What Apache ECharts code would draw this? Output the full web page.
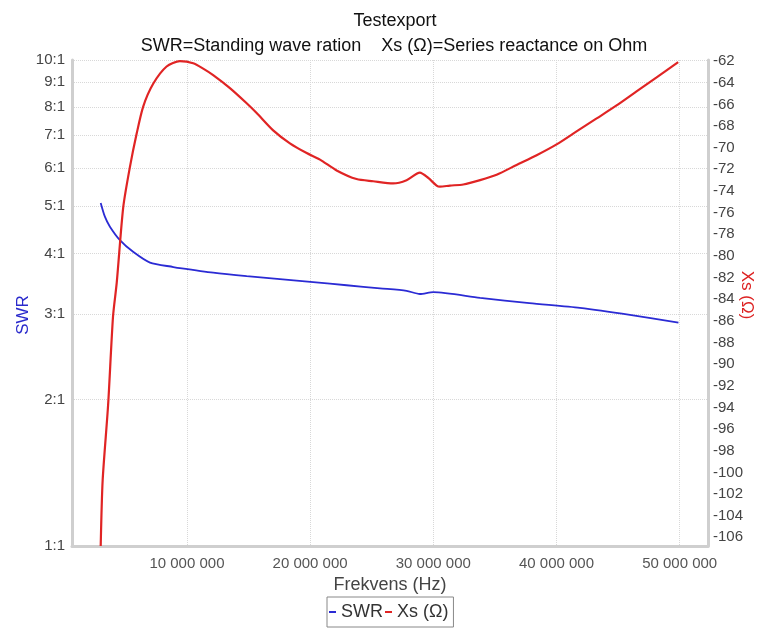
<!DOCTYPE html>
<html>
<head>
<meta charset="utf-8">
<script src="https://cdn.jsdelivr.net/npm/echarts@6/dist/echarts.min.js"></script>
<style>
html,body{margin:0;padding:0;background:#fff;}
#chart{width:765px;height:630px;}
</style>
</head>
<body>
<div id="chart"></div>
<script>
// Frequencies in MHz (converted to Hz below)
const swrFreqMHz = [3.0, 3.34, 3.75, 4.56, 5.63, 7.0, 8.9, 9.43, 12.13, 14.85, 17.55, 20.25, 22.96, 25.67, 27.83, 28.91, 30.0, 33.8, 37.8, 41.9, 45.96, 49.9];
const swrValues  = [5.08, 4.76, 4.54, 4.26, 4.03, 3.83, 3.75, 3.73, 3.65, 3.59, 3.54, 3.49, 3.44, 3.39, 3.35, 3.30, 3.33, 3.24, 3.16, 3.09, 2.99, 2.88];

const xsFreqMHz = [3.0, 3.16, 3.6, 4.0, 4.3, 4.83, 5.37, 5.92, 6.45, 7.26, 8.35, 9.43, 10.51, 11.32, 12.13, 13.49, 14.85, 15.66, 17.0, 18.36, 19.72, 20.8, 22.15, 23.77, 25.12, 26.74, 27.83, 28.91, 29.59, 30.27, 30.54, 31.35, 32.43, 33.8, 35.14, 36.76, 38.39, 40.01, 41.63, 43.26, 44.88, 46.5, 48.13, 49.88];
const xsValues  = [-106.8, -100.7, -93.8, -85.6, -82.5, -75.5, -71.8, -68.7, -66.2, -64.1, -62.5, -62.0, -62.2, -62.7, -63.3, -64.5, -65.9, -66.8, -68.4, -69.6, -70.5, -71.1, -72.1, -72.9, -73.1, -73.3, -73.0, -72.3, -72.8, -73.5, -73.6, -73.5, -73.4, -73.0, -72.5, -71.6, -70.7, -69.7, -68.5, -67.3, -66.1, -64.8, -63.5, -62.1];

const xTickValues = [10000000, 20000000, 30000000, 40000000, 50000000];
const swrTickValues = [1, 2, 3, 4, 5, 6, 7, 8, 9, 10];
const xsTickValues = [-106, -104, -102, -100, -98, -96, -94, -92, -90, -88, -86, -84, -82, -80, -78, -76, -74, -72, -70, -68, -66, -64, -62];

const swrData = swrFreqMHz.map((f, i) => [f * 1e6, swrValues[i]]);
const xsData = xsFreqMHz.map((f, i) => [f * 1e6, xsValues[i]]);

const FONT = 'Liberation Sans, Arial, sans-serif';
const chart = echarts.init(document.getElementById('chart'), null, {renderer: 'canvas'});

chart.setOption({
  backgroundColor: '#fff',
  animation: false,
  textStyle: {fontFamily: FONT},
  title: [
    {text: 'Testexport', left: 390, textAlign: 'center', top: 7,
     textStyle: {fontSize: 18, fontWeight: 'normal', color: '#111', fontFamily: FONT}},
    {text: 'SWR=Standing wave ration    Xs (\u03A9)=Series reactance on Ohm', left: 389, textAlign: 'center', top: 32,
     textStyle: {fontSize: 18, fontWeight: 'normal', color: '#111', fontFamily: FONT}}
  ],
  grid: {left: 72, right: 57, top: 60, bottom: 84, containLabel: false, outerBoundsMode: 'none'},
  legend: {
    top: 597, left: 327,
    data: ['SWR', 'Xs (\u03A9)'],
    icon: 'rect', itemWidth: 7, itemHeight: 2, itemGap: 2,
    borderColor: '#888', borderWidth: 1, padding: [6, 5, 6, 2],
    textStyle: {fontSize: 18, color: '#333', fontFamily: FONT}
  },
  xAxis: {
    type: 'value',
    min: 670000, max: 52300000,
    name: 'Frekvens (Hz)', nameLocation: 'middle', nameGap: 30,
    nameTextStyle: {fontSize: 18, color: '#444', fontFamily: FONT},
    axisLine: {show: true, lineStyle: {color: '#cfcfcf', width: 3}},
    axisTick: {show: false, customValues: xTickValues},
    axisLabel: {
      customValues: xTickValues, margin: 10,
      fontSize: 15, color: '#555', fontFamily: FONT,
      formatter: v => String(Math.round(v)).replace(/\B(?=(\d{3})+(?!\d))/g, ' ')
    },
    splitLine: {show: true, lineStyle: {color: '#d8d8d8', type: 'dotted', width: 1}}
  },
  yAxis: [
    {
      type: 'log', logBase: 10, min: 1, max: 10, position: 'left',
      name: 'SWR', nameLocation: 'middle', nameGap: 40, nameRotate: 90, nameMoveOverlap: false,
      nameTextStyle: {fontSize: 17, color: '#2a2acc', fontFamily: FONT, padding: [0, 24, 0, 0]},
      axisLine: {show: true, lineStyle: {color: '#cfcfcf', width: 3}},
      axisTick: {show: false, customValues: swrTickValues},
      axisLabel: {customValues: swrTickValues, margin: 7, fontSize: 15, color: '#444', fontFamily: FONT,
                  formatter: v => Math.round(v) + ':1'},
      splitLine: {show: true, lineStyle: {color: '#d8d8d8', type: 'dotted', width: 1}}
    },
    {
      type: 'value', min: -106.8, max: -61.9, position: 'right',
      name: 'Xs (\u03A9)', nameLocation: 'middle', nameGap: 30, nameRotate: -90, nameMoveOverlap: false,
      nameTextStyle: {fontSize: 17, color: '#dd2222', fontFamily: FONT, padding: [0, 16, 0, 0]},
      axisLine: {show: true, lineStyle: {color: '#cfcfcf', width: 3}},
      axisTick: {show: false, customValues: xsTickValues},
      axisLabel: {customValues: xsTickValues, margin: 5, fontSize: 15, color: '#444', fontFamily: FONT},
      splitLine: {show: false}
    }
  ],
  series: [
    {
      name: 'SWR', type: 'line', yAxisIndex: 0, data: swrData,
      showSymbol: false, smooth: 0.25,
      lineStyle: {color: '#2b2bd4', width: 1.8},
      itemStyle: {color: '#2b2bd4'}
    },
    {
      name: 'Xs (\u03A9)', type: 'line', yAxisIndex: 1, data: xsData,
      showSymbol: false, smooth: 0.25,
      lineStyle: {color: '#e02424', width: 2.2},
      itemStyle: {color: '#e02424'}
    }
  ]
});
</script>
</body>
</html>
